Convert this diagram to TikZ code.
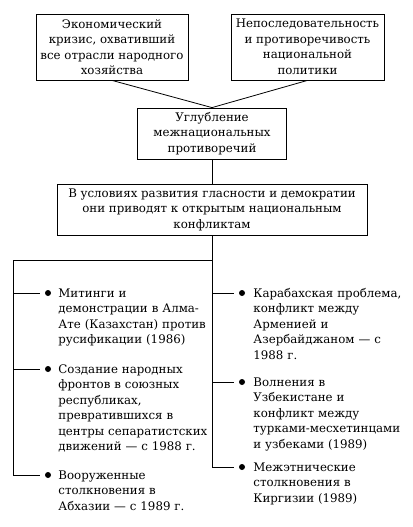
\documentclass[tikz,border=0pt]{standalone}
\usepackage{fontspec}
\setmainfont{DejaVu Serif}
\usepackage{tikz}
\usetikzlibrary{positioning}

\begin{document}
\begin{tikzpicture}[x=1pt,y=-1pt,line width=0.8pt,
  every node/.style={font=\fontsize{11.8}{15.5}\selectfont},
  main node/.style={rectangle,draw,align=center,inner sep=0pt},
  dot node/.style={circle,fill,inner sep=0pt,minimum size=6pt},
  item node/.style={anchor=base west,inner sep=0pt,text width=170pt,align=left},
  branch/.style={shorten >=5pt}]

  \useasboundingbox (0,0) rectangle (412,527);

  \node[main node,minimum width=152pt,minimum height=66pt] (K) at (112,47)
    {Экономический\\кризис, охвативший\\все отрасли народного\\хозяйства};
  \node[main node,minimum width=153pt,minimum height=66pt] (N) at (307.5,47)
    {Непоследовательность\\и противоречивость\\национальной\\политики};
  \node[main node,minimum width=149pt,minimum height=51pt] (U) at (212,133.5)
    {Углубление\\межнациональных\\противоречий};
  \node[main node,minimum width=310pt,minimum height=51pt] (G) at (212,209.5)
    {В условиях развития гласности и демократии\\они приводят к открытым национальным\\конфликтам};

  \coordinate (split) at (212,260);
  \coordinate (ltop) at (13,260);

  \node[dot node] (L1) at (48,293) {};
  \node[dot node] (L2) at (48,369) {};
  \node[dot node] (L3) at (48,475) {};
  \node[dot node] (R1) at (242,293) {};
  \node[dot node] (R2) at (242,382) {};
  \node[dot node] (R3) at (242,467) {};

  \node[item node] (TL1) at (58,297) {Митинги и\\демонстрации в Алма-\\Ате (Казахстан) против\\русификации (1986)};
  \node[item node] (TL2) at (58,373) {Создание народных\\фронтов в союзных\\республиках,\\превратившихся в\\центры сепаратистских\\движений — с 1988 г.};
  \node[item node] (TL3) at (58,479) {Вооруженные\\столкновения в\\Абхазии — с 1989 г.};
  \node[item node] (TR1) at (253,297) {Карабахская проблема,\\конфликт между\\Арменией и\\Азербайджаном — с\\1988 г.};
  \node[item node] (TR2) at (253,386) {Волнения в\\Узбекистане и\\конфликт между\\турками-месхетинцами\\и узбеками (1989)};
  \node[item node] (TR3) at (253,471) {Межэтнические\\столкновения в\\Киргизии (1989)};

  % causes to result
  \draw (K.south) -- (U.north);
  \draw (N.south) -- (U.north);
  \draw (U) -- (G);
  \draw (G) -- (split);

  % left branch
  \draw[branch] (split) -- (ltop) |- (L3);
  \draw[branch] (ltop |- L1) -- (L1);
  \draw[branch] (ltop |- L2) -- (L2);

  % right branch
  \draw[branch] (split) |- (R3);
  \draw[branch] (split |- R1) -- (R1);
  \draw[branch] (split |- R2) -- (R2);

\end{tikzpicture}
\end{document}
